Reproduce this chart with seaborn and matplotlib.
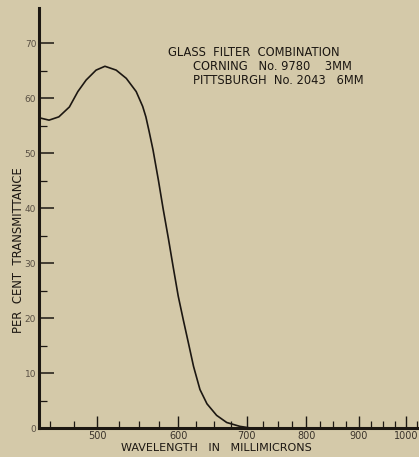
import numpy as np
import pandas as pd
import seaborn as sns
import matplotlib.pyplot as plt
from matplotlib.ticker import FixedLocator, FixedFormatter, NullFormatter

# values (wavelength nm, per cent transmittance)
wavelength = [440, 449, 459, 470, 479, 488, 499, 509, 522, 534, 546, 554, 558,
              562, 567, 574, 580, 587, 593, 600, 607, 614, 621, 630, 640, 654,
              669, 689, 700, 706]
transmittance = [56.4, 56.0, 56.6, 58.4, 61.2, 63.3, 65.1, 65.8, 65.1, 63.6, 61.2,
                 58.5, 56.6, 54.0, 50.6, 45.0, 39.9, 34.4, 29.5, 24.0, 19.6, 15.4,
                 11.2, 7.0, 4.4, 2.3, 1.0, 0.3, 0.1, 0.0]

x_major = [500, 600, 700, 800, 900, 1000]
x_major_labels = ["500", "600", "700", "800", "900", "1000"]
x_minor = [450, 475, 525, 550, 575, 625, 650, 675, 725, 750, 775, 825, 850, 875,
           925, 950, 975, 1025]
y_major = [0, 10, 20, 30, 40, 50, 60, 70]
y_minor = [5, 15, 25, 35, 45, 55, 65]

note_lines = ["GLASS  FILTER  COMBINATION",
              "CORNING   No. 9780    3MM",
              "PITTSBURGH  No. 2043   6MM"]

BG = "#d4c9a9"
INK = "#1c1712"

sns.set_style("ticks")
plt.rcParams["font.family"] = ["DejaVu Sans"]

data = pd.DataFrame({"wavelength": wavelength, "transmittance": transmittance})

fig = plt.figure(figsize=(4.19, 4.57), dpi=100, facecolor=BG)
ax = fig.add_axes([39 / 419, 29 / 457, 380 / 419, 420 / 457])
ax.set_facecolor(BG)

sns.lineplot(x="wavelength", y="transmittance", data=data, ax=ax,
             color=INK, linewidth=1.2)

ax.set_xscale("log")
ax.set_xlim(439, 1030)
ax.set_ylim(0, 76.4)

ax.xaxis.set_major_locator(FixedLocator(x_major))
ax.xaxis.set_major_formatter(FixedFormatter(x_major_labels))
ax.xaxis.set_minor_locator(FixedLocator(x_minor))
ax.xaxis.set_minor_formatter(NullFormatter())
ax.yaxis.set_major_locator(FixedLocator(y_major))
ax.yaxis.set_minor_locator(FixedLocator(y_minor))

ax.tick_params(axis="x", which="major", direction="in", length=9, width=1.0,
               color=INK, labelsize=7, labelcolor="#3a332b", pad=2)
ax.tick_params(axis="x", which="minor", direction="in", length=5, width=0.9, color=INK)
ax.tick_params(axis="y", which="major", direction="in", length=11, width=1.1,
               color=INK, labelsize=6.5, labelcolor="#5a5145", pad=2)
ax.tick_params(axis="y", which="minor", direction="in", length=6, width=0.9, color=INK)

sns.despine(ax=ax)
for s in ["left", "bottom"]:
    ax.spines[s].set_linewidth(2.2)
    ax.spines[s].set_color(INK)

ax.set_xlabel("WAVELENGTH   IN   MILLIMICRONS", fontsize=8, color=INK)
ax.set_ylabel("PER  CENT  TRANSMITTANCE", fontsize=8.4, color=INK)
ax.xaxis.set_label_coords((216 - 39) / 380, -20 / 420)
ax.yaxis.set_label_coords(-21 / 380, (428 - 250) / 420)
ax.xaxis.label.set_va("center")
ax.yaxis.label.set_va("center")

fig.text(168 / 419, 1 - 53 / 457, note_lines[0], fontsize=8.3, color=INK, va="center")
fig.text(193 / 419, 1 - 66 / 457, note_lines[1], fontsize=8.3, color=INK, va="center")
fig.text(193 / 419, 1 - 80 / 457, note_lines[2], fontsize=8.3, color=INK, va="center")

fig.savefig("out.png", dpi=100, facecolor=BG)
